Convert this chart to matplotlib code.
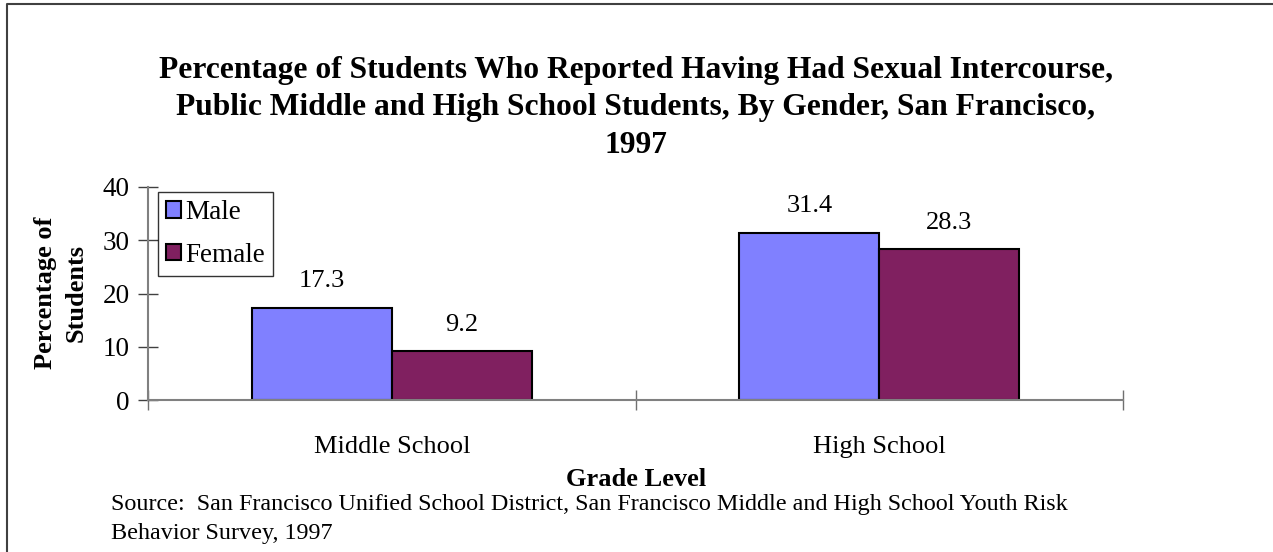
import numpy as np
import matplotlib.pyplot as plt
from matplotlib.lines import Line2D

# data
grades = ['Middle School', 'High School']
male = [17.3, 31.4]
female = [9.2, 28.3]
series_names = ['Male', 'Female']
yticks = [0, 10, 20, 30, 40]

title = ('Percentage of Students Who Reported Having Had Sexual Intercourse,\n'
         'Public Middle and High School Students, By Gender, San Francisco,\n'
         '1997')
source = ('Source:  San Francisco Unified School District, San Francisco Middle and High School Youth Risk\n'
          'Behavior Survey, 1997')

plt.rcParams['font.family'] = ['Liberation Serif', 'DejaVu Serif']

W, H = 1273, 552
fig = plt.figure(figsize=(W / 100, H / 100), dpi=100)
ax = fig.add_axes([148 / W, 1 - 400 / H, (1123 - 148) / W, (400 - 187) / H])

x = np.arange(len(grades))
bw = 0.287
b1 = ax.bar(x - bw / 2, male, bw, color='#8080FF', edgecolor='black', linewidth=1.5, label=series_names[0])
b2 = ax.bar(x + bw / 2, female, bw, color='#802060', edgecolor='black', linewidth=1.5, label=series_names[1])

for bars in (b1, b2):
    for r in bars:
        ax.annotate(f'{r.get_height():.1f}', (r.get_x() + r.get_width() / 2, r.get_height()),
                    xytext=(0, 19), textcoords='offset points', ha='center', va='center', fontsize=19)

ax.set_xlim(-0.5, 1.5)
ax.set_ylim(0, 40)
ax.set_yticks(yticks)
ax.set_xticks([-0.5, 0.5, 1.5])
ax.set_xticklabels([])
ax.tick_params(axis='y', direction='inout', length=14, width=1, color='#404040', labelsize=19.5, pad=6)
ax.tick_params(axis='x', direction='inout', length=14, width=1, color='#707070')
for s in ('top', 'right'):
    ax.spines[s].set_visible(False)
for s in ('left', 'bottom'):
    ax.spines[s].set_color('#808080')
    ax.spines[s].set_linewidth(1.5)

# category labels below the axis
for i, g in enumerate(grades):
    ax.annotate(g, (x[i], 0), xycoords=('data', 'axes fraction'), xytext=(0, -47 * 0.72),
                textcoords='offset points', ha='center', va='center', fontsize=19)

leg = ax.legend(loc='upper left', bbox_to_anchor=(10 / 975, 1 - 5 / 213), fontsize=19.5, frameon=True,
                fancybox=False, edgecolor='black', handlelength=0.55, handleheight=0.55,
                handletextpad=0.15, borderpad=0.3, labelspacing=0.65, borderaxespad=0)
leg.get_frame().set_linewidth(1)

fig.text(636 / W, 1 - 108 / H, title, ha='center', va='center', fontsize=22.7, fontweight='bold', linespacing=1.4)
fig.text(636 / W, 1 - 480 / H, 'Grade Level', ha='center', va='center', fontsize=19, fontweight='bold')
fig.text(61 / W, 1 - 293 / H, 'Percentage of\nStudents', ha='center', va='center', rotation=90,
         fontsize=19, fontweight='bold', linespacing=1.4)
fig.text(111 / W, 1 - 519 / H, source, ha='left', va='center', fontsize=17.4, linespacing=1.5)

# outer frame (left and top edges visible)
fig.add_artist(Line2D([7 / W, 7 / W, 1.0], [0, 1 - 4 / H, 1 - 4 / H], color='#404040', linewidth=1.5))

fig.savefig('out.png', dpi=100)
